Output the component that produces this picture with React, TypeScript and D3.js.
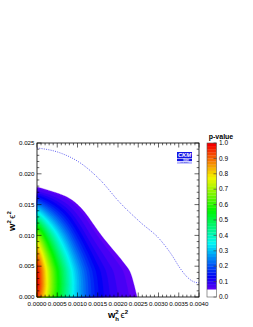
import React from 'react';
import * as d3 from 'd3';

const W = 253;
const H = 327;
const frame = { left: 37, right: 199, top: 143, bottom: 297 };

// p-value estimates, on a coarse (non uniform) grid
const gridX = [0, 0.0001, 0.00025, 0.0005, 0.00075, 0.001, 0.0015, 0.002, 0.0025, 0.003];
const gridY = [0, 0.002, 0.004, 0.006, 0.008, 0.01, 0.012, 0.014, 0.016, 0.018, 0.02];
const pRows = [
  [0.95, 0.869, 0.742, 0.565, 0.42, 0.297, 0.145, 0.08, 0.0487, 0.0328],
  [0.995, 0.907, 0.769, 0.579, 0.425, 0.297, 0.141, 0.0758, 0.0453, 0.03],
  [0.99, 0.9, 0.76, 0.568, 0.413, 0.285, 0.132, 0.07, 0.041, 0.027],
  [0.93, 0.84, 0.702, 0.515, 0.367, 0.248, 0.109, 0.0557, 0.0317, 0.0202],
  [0.83, 0.744, 0.613, 0.439, 0.305, 0.199, 0.0828, 0.04, 0.0218, 0.0134],
  [0.7, 0.622, 0.505, 0.352, 0.238, 0.15, 0.0582, 0.0265, 0.0138, 0.0082],
  [0.52, 0.46, 0.37, 0.255, 0.169, 0.105, 0.0393, 0.0174, 0.0088, 0.0051],
  [0.33, 0.292, 0.235, 0.162, 0.108, 0.067, 0.0251, 0.0111, 0.0056, 0.0033],
  [0.16, 0.142, 0.116, 0.081, 0.0547, 0.0347, 0.0135, 0.0062, 0.0032, 0.0019],
  [0.045, 0.04, 0.0326, 0.0228, 0.0154, 0.0098, 0.0038, 0.0017, 0.0009, 0.0005],
  [0.01, 0.009, 0.0073, 0.0051, 0.0034, 0.0022, 0.0009, 0.0004, 0.0002, 0.0001],
];

// dotted curve
const lineX = [0, 0.00057, 0.00106, 0.00156, 0.00205, 0.00254, 0.00304, 0.00333, 0.00353, 0.00373, 0.0039, 0.004];
const lineY = [0.0242, 0.0234, 0.0218, 0.019, 0.0153, 0.0122, 0.0093, 0.0068, 0.0047, 0.0031, 0.0024, 0.0023];

const xTicks = [0, 0.0005, 0.001, 0.0015, 0.002, 0.0025, 0.003, 0.0035, 0.004];
const yTicks = [0, 0.005, 0.01, 0.015, 0.02, 0.025];
const zTicks = [0, 0.1, 0.2, 0.3, 0.4, 0.5, 0.6, 0.7, 0.8, 0.9, 1.0];
const pMin = 0.05;

const x = d3.scaleLinear().domain([0, 0.004]).range([frame.left, frame.right]);
const y = d3.scaleLinear().domain([0, 0.025]).range([frame.bottom, frame.top]);
const z = d3.scaleLinear().domain([0, 1]).range([frame.bottom, frame.top]);

// ROOT "pretty" palette: 50 colours, violet -> red
const paletteColor = (t: number) => {
  const i = Math.min(49, Math.floor(t / 0.02 + 1e-6));
  return d3.hsl(280 - (i + 1) * 5.6, 1, 0.48).formatHex();
};

const thresholds = [pMin, ...d3.range(3, 50).map((k) => +(k * 0.02).toFixed(2))];

// monotone cubic (Fritsch-Butland) resampling of the grid, done on log(p)
function slopes(xs: number[], ys: number[]) {
  const n = xs.length;
  const d = d3.range(n - 1).map((k) => (ys[k + 1] - ys[k]) / (xs[k + 1] - xs[k]));
  return xs.map((_, k) => {
    if (k === 0) return d[0];
    if (k === n - 1) return d[n - 2];
    if (d[k - 1] * d[k] <= 0) return 0;
    const h0 = xs[k] - xs[k - 1];
    const h1 = xs[k + 1] - xs[k];
    const w1 = 2 * h1 + h0;
    const w2 = h1 + 2 * h0;
    return (w1 + w2) / (w1 / d[k - 1] + w2 / d[k]);
  });
}
function hermite(xs: number[], ys: number[], ms: number[], v: number) {
  const k = Math.max(0, Math.min(xs.length - 2, d3.bisectRight(xs, v) - 1));
  const h = xs[k + 1] - xs[k];
  const t = (v - xs[k]) / h;
  const t2 = t * t;
  const t3 = t2 * t;
  return (
    (2 * t3 - 3 * t2 + 1) * ys[k] +
    (t3 - 2 * t2 + t) * h * ms[k] +
    (-2 * t3 + 3 * t2) * ys[k + 1] +
    (t3 - t2) * h * ms[k + 1]
  );
}

const nx = 150;
const ny = 200;
const xMax = gridX[gridX.length - 1];
const yMax = gridY[gridY.length - 1];
const sx = d3.range(nx).map((i) => ((i + 0.5) / nx) * xMax);
const sy = d3.range(ny).map((j) => yMax - ((j + 0.5) / ny) * yMax);
const logRows = pRows.map((r) => r.map((p) => Math.log(Math.max(p, 1e-4))));
const alongX = logRows.map((r) => {
  const ms = slopes(gridX, r);
  return sx.map((v) => hermite(gridX, r, ms, v));
});
const values: number[] = new Array(nx * ny);
for (let i = 0; i < nx; i++) {
  const col = alongX.map((r) => r[i]);
  const ms = slopes(gridY, col);
  for (let j = 0; j < ny; j++) values[j * nx + i] = Math.exp(hermite(gridY, col, ms, sy[j]));
}

const contours = d3.contours().size([nx, ny]).thresholds(thresholds)(values);
const toPixels = d3.geoTransform({
  point(cx: number, cy: number) {
    (this as any).stream.point(x((cx / nx) * xMax), y(yMax - (cy / ny) * yMax));
  },
});
const contourPath = d3.geoPath(toPixels);

const dotted = d3
  .line<number>()
  .x((_, i) => x(lineX[i]))
  .y((d) => y(d))
  .curve(d3.curveMonotoneX)(lineY);

const font = 'Liberation Sans, Arial, sans-serif';

export default function App() {
  const xMinor = d3.range(0, 41).map((k) => k * 0.0001);
  const yMinor = d3.range(0, 26).map((k) => k * 0.001);
  const cbX = 207;
  const cbW = 9.5;
  return (
    <svg width={W} height={H} style={{ position: 'absolute', left: 0, top: 0, background: '#fff' }}>
      {/* filled contours */}
      <g>
        {contours.map((c, k) => (
          <path key={k} d={contourPath(c as any) || ''} fill={paletteColor(c.value)} stroke={paletteColor(c.value)} strokeWidth={0.3} />
        ))}
      </g>

      {/* dotted curve */}
      <path d={dotted || ''} fill="none" stroke="#3a3aee" strokeWidth={0.8} strokeDasharray="1 1.3" />

      {/* frame and ticks */}
      <rect x={frame.left} y={frame.top} width={frame.right - frame.left} height={frame.bottom - frame.top} fill="none" stroke="#000" strokeWidth={0.8} />
      <g stroke="#000" strokeWidth={0.6}>
        {xMinor.map((v, k) => {
          const len = k % 5 === 0 ? 4.5 : 2.3;
          return (
            <g key={'x' + k}>
              <line x1={x(v)} x2={x(v)} y1={frame.bottom} y2={frame.bottom - len} />
              <line x1={x(v)} x2={x(v)} y1={frame.top} y2={frame.top + len} />
            </g>
          );
        })}
        {yMinor.map((v, k) => {
          const len = k % 5 === 0 ? 4.5 : 2.3;
          return (
            <g key={'y' + k}>
              <line x1={frame.left} x2={frame.left + len} y1={y(v)} y2={y(v)} />
              <line x1={frame.right} x2={frame.right - len} y1={y(v)} y2={y(v)} />
            </g>
          );
        })}
      </g>

      {/* tick labels */}
      <g fontFamily={font} fontSize={6.2} fill="#000">
        {xTicks.map((v) => (
          <text key={v} x={x(v)} y={frame.bottom + 9} textAnchor="middle">
            {d3.format('.4f')(v)}
          </text>
        ))}
        {yTicks.map((v) => (
          <text key={v} x={frame.left - 2.5} y={y(v)} dy="0.35em" textAnchor="end">
            {d3.format('.3f')(v)}
          </text>
        ))}
      </g>

      {/* axis titles */}
      <text x={118} y={318} textAnchor="middle" fontFamily={font} fontWeight="bold" fontSize={9.5}>
        w<tspan fontSize={6} dy={-4}>2</tspan>
        <tspan fontSize={6} dx={-3.4} dy={6.5}>h</tspan>
        <tspan dy={-2.5} dx={1.5} fontWeight="normal">ϵ</tspan>
        <tspan fontSize={6} dy={-4}>2</tspan>
      </text>
      <text transform="translate(15,221) rotate(-90)" textAnchor="middle" fontFamily={font} fontWeight="bold" fontSize={9.5}>
        w<tspan fontSize={6} dy={-4}>2</tspan>
        <tspan dy={4} dx={1.5} fontWeight="normal">ϵ</tspan>
        <tspan fontSize={6} dy={-4}>2</tspan>
      </text>

      {/* logo */}
      <g fontFamily={font}>
        <rect x={177} y={152} width={15} height={6} fill="#1414e6" />
        <text x={184.5} y={157.3} textAnchor="middle" fontSize={5.8} fontStyle="italic" fontWeight="bold" fill="#fff">
          CKM
        </text>
        <rect x={177} y={158.6} width={15} height={2.4} fill="#1414e6" />
        <text x={189} y={160.7} textAnchor="end" fontSize={2.6} fontWeight="bold" fill="#fff">
          fitter
        </text>
        <rect x={177} y={161.4} width={15} height={2.4} fill="#b8b8ff" />
        <text x={184.5} y={163.4} textAnchor="middle" fontSize={2.2} fill="#2020d0">
          LP 2009
        </text>
      </g>

      {/* colour bar */}
      <g>
        <rect x={cbX} y={z(pMin)} width={cbW} height={z(0) - z(pMin)} fill="#fff" />
        {thresholds.map((t, k) => {
          const t1 = k < thresholds.length - 1 ? thresholds[k + 1] : 1;
          return <rect key={t} x={cbX} y={z(t1)} width={cbW} height={z(t) - z(t1) + 0.2} fill={paletteColor(t)} />;
        })}
        <rect x={cbX} y={z(1)} width={cbW} height={z(0) - z(1)} fill="none" stroke="#555" strokeWidth={0.6} />
        {zTicks.map((v) => (
          <line key={v} x1={cbX + cbW - 3} x2={cbX + cbW} y1={z(v)} y2={z(v)} stroke="#333" strokeWidth={0.6} />
        ))}
        <g fontFamily={font} fontSize={6.5} fill="#000">
          {zTicks.map((v) => (
            <text key={v} x={cbX + cbW + 2.5} y={z(v)} dy="0.35em">
              {d3.format('.1f')(v)}
            </text>
          ))}
        </g>
        <text x={221} y={138.5} textAnchor="middle" fontFamily={font} fontSize={7} fontWeight="bold">
          p-value
        </text>
      </g>
    </svg>
  );
}
